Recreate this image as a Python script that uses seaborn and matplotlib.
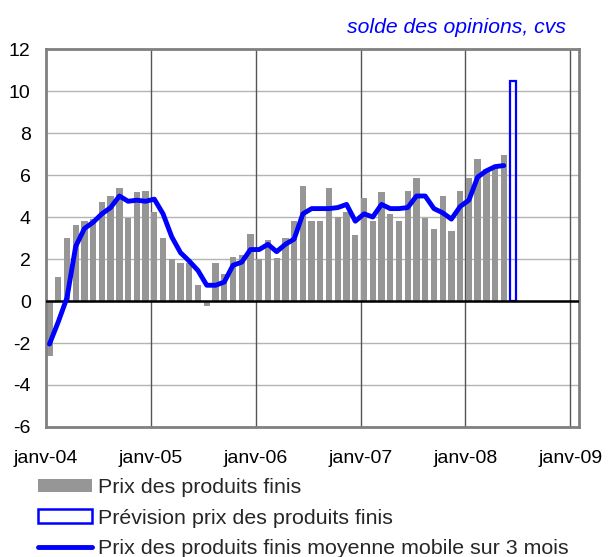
import numpy as np
import pandas as pd
import matplotlib
matplotlib.use('Agg')
import matplotlib.pyplot as plt
import seaborn as sns
from matplotlib.patches import Patch
from matplotlib.lines import Line2D

sns.set_theme(style='white')
plt.rcParams['font.family'] = ['Liberation Sans', 'DejaVu Sans']
plt.rcParams['axes.unicode_minus'] = False

# monthly series, janv-04 .. mai-08
prix = [-2.6, 1.15, 3.0, 3.6, 3.8, 3.9, 4.7, 5.0, 5.4, 3.95,
        5.2, 5.25, 4.25, 3.0, 2.0, 1.8, 1.8, 0.75, -0.25, 1.8,
        1.3, 2.1, 2.2, 3.2, 2.0, 2.9, 2.05, 3.0, 3.8, 5.5,
        3.8, 3.8, 5.4, 4.0, 4.25, 3.15, 4.9, 3.8, 5.2, 4.15,
        3.8, 5.25, 5.85, 3.95, 3.45, 5.0, 3.35, 5.25, 5.85, 6.75,
        6.3, 6.4, 6.95]
moy_mobile = [-2.05, -1.0, 0.15, 2.6, 3.45, 3.75, 4.15, 4.45, 5.0, 4.75,
              4.8, 4.75, 4.85, 4.15, 3.05, 2.3, 1.9, 1.45, 0.75, 0.75,
              0.9, 1.7, 1.85, 2.45, 2.45, 2.7, 2.35, 2.7, 2.95, 4.15,
              4.4, 4.4, 4.4, 4.45, 4.6, 3.8, 4.15, 4.0, 4.6, 4.4,
              4.4, 4.45, 5.0, 5.0, 4.4, 4.2, 3.9, 4.5, 4.8, 5.9,
              6.2, 6.4, 6.45]
prevision_mois = [53]   # juin-08
prevision = [10.5]

year_labels = ['janv-04', 'janv-05', 'janv-06', 'janv-07', 'janv-08', 'janv-09']

df = pd.DataFrame({'mois': np.arange(len(prix)) + 0.4,
                   'prix': prix, 'mm3': moy_mobile})
df_prev = pd.DataFrame({'mois': np.array(prevision_mois) + 0.4,
                        'prev': prevision})

fig = plt.figure(figsize=(6.13, 5.57), dpi=100)
ax = fig.add_axes([0.075, 0.2334, 0.8695, 0.6786])

# grid first
for y in range(-6, 13, 2):
    ax.axhline(y, color='#b4b4b4', lw=1.0, zorder=0)
for m in range(12, 61, 12):
    ax.axvline(m, color='#555555', lw=1.0, zorder=0)

sns.barplot(data=df, x='mois', y='prix', native_scale=True, color='#969696',
            saturation=1, width=0.72, linewidth=0, errorbar=None, ax=ax,
            zorder=2)
sns.barplot(data=df_prev, x='mois', y='prev', native_scale=True, fill=False,
            edgecolor='#0000ff', linewidth=1.6, width=0.7, errorbar=None,
            ax=ax, zorder=3)
sns.lineplot(data=df, x='mois', y='mm3', color='#0000ff', lw=3.5,
             ax=ax, zorder=4)

ax.axhline(0, color='black', lw=1.8, zorder=3)

ax.set_xlim(0, 61)
ax.set_ylim(-6, 12)
ax.set_yticks(range(-6, 13, 2))
ax.set_xticks(range(0, 61, 12))
ax.set_xticklabels(year_labels)
ax.tick_params(axis='both', labelsize=14, length=0, colors='black')
ax.tick_params(axis='x', pad=16.5)
ax.tick_params(axis='y', pad=11)
ax.set_xlabel('')
ax.set_ylabel('')
for s in ax.spines.values():
    s.set_color('#808080')
    s.set_linewidth(2)

fig.text(0.924, 0.951, 'solde des opinions, cvs', color='#0000ff',
         style='italic', fontsize=15.2, ha='right', va='center')

handles = [Patch(facecolor='#969696', edgecolor='none'),
           Patch(facecolor='white', edgecolor='#0000ff', linewidth=1.8),
           Line2D([0], [0], color='#0000ff', lw=3.5)]
labels = ['Prix des produits finis',
          'Prévision prix des produits finis',
          'Prix des produits finis moyenne mobile sur 3 mois']
fig.legend(handles, labels, loc='upper left', bbox_to_anchor=(0.062, 0.142),
           frameon=False, fontsize=15.4, handlelength=2.52, handleheight=0.61,
           handletextpad=0.28, labelspacing=0.55, borderpad=0, borderaxespad=0)

fig.savefig('out.png', dpi=100)
